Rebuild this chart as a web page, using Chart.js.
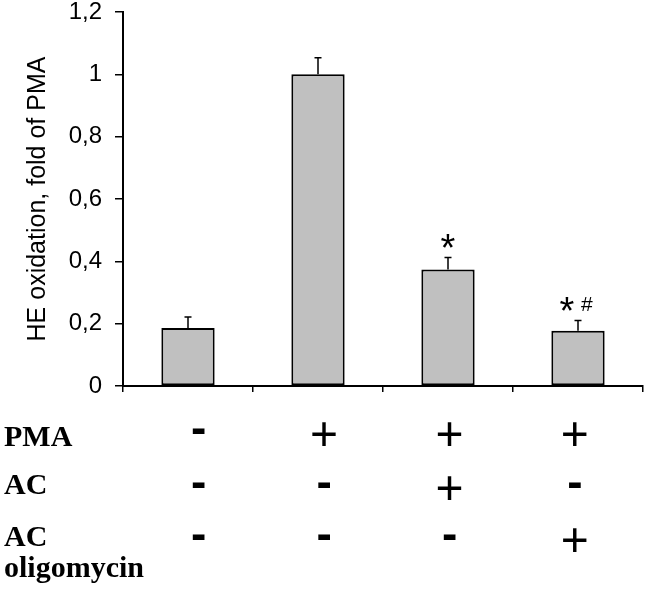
<!DOCTYPE html>
<html>
<head>
<meta charset="utf-8">
<script src="https://cdn.jsdelivr.net/npm/chart.js@4.4.1/dist/chart.umd.min.js"></script>
<style>
  html, body { margin: 0; padding: 0; background: #fff; }
  canvas { display: block; }
</style>
</head>
<body>
<canvas id="heChart" width="647" height="589"></canvas>
<script>
// values
const groups = ['Control', 'PMA', 'PMA + AC', 'PMA + AC oligomycin'];
const heOxidation = [0.186, 1.0, 0.374, 0.177];
const heError = [0.035, 0.053, 0.038, 0.033];
const starMarks = ['', '', '*', '*'];
const hashMarks = ['', '', '', '#'];
const yTickLabels = ['0', '0,2', '0,4', '0,6', '0,8', '1', '1,2'];

// treatment table under the chart
const rowLabels = [['PMA'], ['AC'], ['AC', 'oligomycin']];
const pmaSigns = ['-', '+', '+', '+'];
const acSigns = ['-', '-', '+', '-'];
const acOligoSigns = ['-', '-', '-', '+'];
const signRows = [pmaSigns, acSigns, acOligoSigns];

// draw text so that its ink is centred on (cx, cy)
function inkText(ctx, text, cx, cy) {
    ctx.textAlign = 'left';
    ctx.textBaseline = 'alphabetic';
    const m = ctx.measureText(text);
    const x = cx - (m.actualBoundingBoxRight - m.actualBoundingBoxLeft) / 2;
    const y = cy + (m.actualBoundingBoxAscent - m.actualBoundingBoxDescent) / 2;
    ctx.fillText(text, x, y);
}

const extras = {
    id: 'extras',
    afterDatasetsDraw(chart) {
        const ctx = chart.ctx;
        const y = chart.scales.y;
        const bars = chart.getDatasetMeta(0).data;
        ctx.save();
        ctx.strokeStyle = '#000';
        ctx.lineWidth = 1.5;
        bars.forEach((bar, i) => {
            const top = y.getPixelForValue(heOxidation[i] + heError[i]);
            ctx.beginPath();
            ctx.moveTo(bar.x, bar.y);
            ctx.lineTo(bar.x, top);
            ctx.moveTo(bar.x - 3.5, top);
            ctx.lineTo(bar.x + 3.5, top);
            ctx.stroke();
        });
        ctx.restore();
    },
    afterDraw(chart) {
        const ctx = chart.ctx;
        const x = chart.scales.x;
        const y = chart.scales.y;
        ctx.save();
        ctx.fillStyle = '#000';

        // significance marks
        groups.forEach((g, i) => {
            const cx = x.getPixelForValue(i);
            const cy = y.getPixelForValue(heOxidation[i] + heError[i]) - 17;
            const both = starMarks[i] && hashMarks[i];
            if (starMarks[i]) {
                ctx.font = '38px "Liberation Sans"';
                inkText(ctx, starMarks[i], both ? cx - 11 : cx, cy);
            }
            if (hashMarks[i]) {
                ctx.font = '21px "Liberation Sans"';
                inkText(ctx, hashMarks[i], both ? cx + 9 : cx, cy);
            }
        });

        // row labels
        ctx.font = 'bold 30px "Liberation Serif"';
        ctx.textAlign = 'left';
        ctx.textBaseline = 'alphabetic';
        const labelBase = [[446], [494], [546, 577]];
        rowLabels.forEach((lines, r) => {
            lines.forEach((t, k) => ctx.fillText(t, 4, labelBase[r][k]));
        });

        // + / - signs
        const rowY = [434, 488, 540];
        signRows.forEach((signs, r) => {
            signs.forEach((s, i) => {
                const sx = 199 + (x.getPixelForValue(i) - 188.5) * 0.965;
                if (s === '-') {
                    ctx.font = 'bold 46px "Liberation Sans"';
                    inkText(ctx, s, sx, rowY[r] - 3.5);
                } else {
                    ctx.font = '48px "Liberation Sans"';
                    inkText(ctx, s, sx, rowY[r]);
                }
            });
        });
        ctx.restore();
    }
};

new Chart(document.getElementById('heChart').getContext('2d'), {
    type: 'bar',
    data: {
        labels: groups,
        datasets: [{
            data: heOxidation,
            backgroundColor: '#c0c0c0',
            borderColor: '#000',
            borderWidth: 2,
            borderSkipped: false,
            barPercentage: 0.41,
            categoryPercentage: 1
        }]
    },
    options: {
        responsive: false,
        animation: false,
        devicePixelRatio: 1,
        layout: { padding: { top: 12, right: 4, left: 0, bottom: 0 } },
        plugins: { legend: { display: false }, tooltip: { enabled: false } },
        scales: {
            x: {
                ticks: { display: false },
                grid: { offset: true, drawOnChartArea: false, drawTicks: true, tickLength: 6, color: '#000', lineWidth: 1.5 },
                border: { color: '#000', width: 2 },
                afterFit: s => { s.height = 203; s.paddingLeft = 0; s.paddingRight = 0; }
            },
            y: {
                min: 0,
                max: 1.2,
                ticks: {
                    stepSize: 0.2,
                    padding: 13,
                    color: '#000',
                    font: { family: 'Liberation Sans', size: 24 },
                    callback: (v, i) => yTickLabels[i]
                },
                grid: { drawOnChartArea: false, drawTicks: true, tickLength: 8, color: '#000', lineWidth: 1.5 },
                border: { color: '#000', width: 2 },
                title: {
                    display: true,
                    text: 'HE oxidation, fold of PMA',
                    color: '#000',
                    font: { family: 'Liberation Sans', size: 25 },
                    padding: { top: 23, bottom: 0 }
                },
                afterFit: s => { s.width = 123; s.paddingTop = 0; s.paddingBottom = 0; }
            }
        }
    },
    plugins: [extras]
});
</script>
</body>
</html>
